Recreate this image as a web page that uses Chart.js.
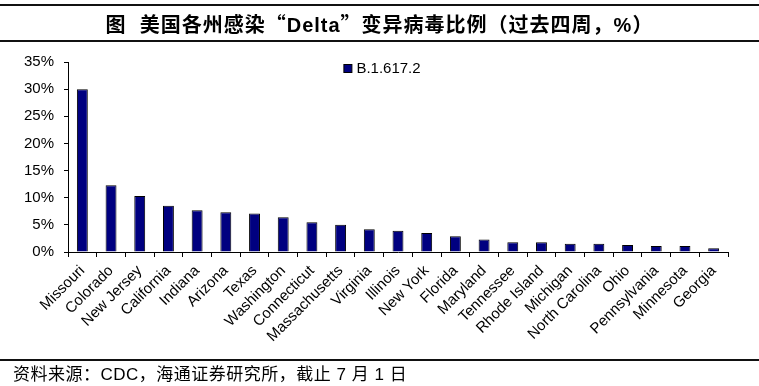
<!DOCTYPE html>
<html>
<head>
<meta charset="utf-8">
<script src="https://cdn.jsdelivr.net/npm/chart.js@4"></script>
<style>
  html, body { margin: 0; padding: 0; background: #fff; }
  body { width: 759px; height: 386px; position: relative; overflow: hidden; }
  #title {
    position: absolute; left: 0; top: 4px; width: 759px; height: 34px;
    border-top: 2px solid #111; border-bottom: 2px solid #111;
    text-align: center; line-height: 35px;
    font-family: "Liberation Sans", "Noto Sans CJK SC", sans-serif;
    font-weight: bold; font-size: 20px; color: #000; letter-spacing: 1px;
  }
  #title .q { font-family: "Noto Sans CJK SC", sans-serif; }
  #footer {
    position: absolute; left: 0; top: 359px; width: 759px; height: 27px;
    border-top: 2px solid #111;
    padding-left: 13px; box-sizing: border-box; line-height: 28px;
    font-family: "Liberation Sans", "Noto Sans CJK SC", sans-serif;
    font-size: 17px; color: #000; letter-spacing: 0.5px;
  }
  #chart { position: absolute; left: 0; top: 0; }
</style>
</head>
<body>
<canvas id="chart" width="759" height="386"></canvas>
<div id="title">图&nbsp;&nbsp;美国各州感染<span class="q">“</span>Delta<span class="q">”</span>变异病毒比例（过去四周，%）</div>
<div id="footer">资料来源：CDC，海通证券研究所，截止 7 月 1 日</div>
<script>
// states, sorted by share of the Delta variant
const states = ['Missouri', 'Colorado', 'New Jersey', 'California', 'Indiana', 'Arizona', 'Texas',
  'Washington', 'Connecticut', 'Massachusetts', 'Virginia', 'Illinois', 'New York', 'Florida',
  'Maryland', 'Tennessee', 'Rhode Island', 'Michigan', 'North Carolina', 'Ohio', 'Pennsylvania',
  'Minnesota', 'Georgia'];
// B.1.617.2 share, %
const deltaShare = [30.0, 12.3, 10.3, 8.5, 7.7, 7.3, 7.1, 6.4, 5.5, 5.0, 4.2, 3.9, 3.5, 2.9,
  2.3, 1.8, 1.8, 1.5, 1.5, 1.3, 1.1, 1.1, 0.7];
const yTicks = [0, 5, 10, 15, 20, 25, 30, 35];

const font = 'Liberation Sans, Arial, sans-serif';

// legend sits inside the plot, near the top, a bit left of centre
const innerLegend = {
  id: 'innerLegend',
  afterDatasetsDraw(chart) {
    const c = chart.ctx;
    const area = chart.chartArea;
    const ds = chart.data.datasets[0];
    c.save();
    c.font = '15px ' + font;
    const w = 13 + c.measureText(ds.label).width;
    const x = (area.left + area.right) / 2 - 16 - w / 2;
    const y = area.top + 6;
    c.fillStyle = ds.backgroundColor;
    c.strokeStyle = ds.borderColor;
    c.lineWidth = 1;
    c.fillRect(x + 0.5, y - 3.5, 8, 8);
    c.strokeRect(x + 0.5, y - 3.5, 8, 8);
    c.fillStyle = '#000';
    c.textBaseline = 'middle';
    c.fillText(ds.label, x + 13, y + 1);
    c.restore();
  }
};

const ctx = document.getElementById('chart').getContext('2d');
new Chart(ctx, {
  type: 'bar',
  data: {
    labels: states,
    datasets: [{
      label: 'B.1.617.2',
      data: deltaShare,
      backgroundColor: '#000080',
      borderColor: '#000000',
      borderWidth: 1,
      barPercentage: 0.38,
      categoryPercentage: 1
    }]
  },
  options: {
    responsive: false,
    animation: false,
    layout: { padding: { left: 0, top: 62, right: 31, bottom: 0 } },
    plugins: {
      title: { display: false },
      tooltip: { enabled: false },
      legend: { display: false }
    },
    scales: {
      x: {
        afterFit: function(scale) { scale.height = 134; },
        border: { color: '#000', width: 1 },
        grid: { drawOnChartArea: false, tickLength: 5, tickColor: '#000' },
        ticks: {
          color: '#000', minRotation: 45, maxRotation: 45, autoSkip: false, padding: 5,
          font: { family: font, size: 15 }
        }
      },
      y: {
        min: 0, max: 35,
        afterFit: function(scale) { scale.width = 68; },
        afterBuildTicks: function(scale) { scale.ticks = yTicks.map(v => ({ value: v })); },
        border: { color: '#000', width: 1 },
        grid: { drawOnChartArea: false, tickLength: 4, tickColor: '#000' },
        ticks: {
          color: '#000', padding: 10,
          font: { family: font, size: 15 },
          callback: v => v + '%'
        }
      }
    }
  },
  plugins: [innerLegend]
});
</script>
</body>
</html>
